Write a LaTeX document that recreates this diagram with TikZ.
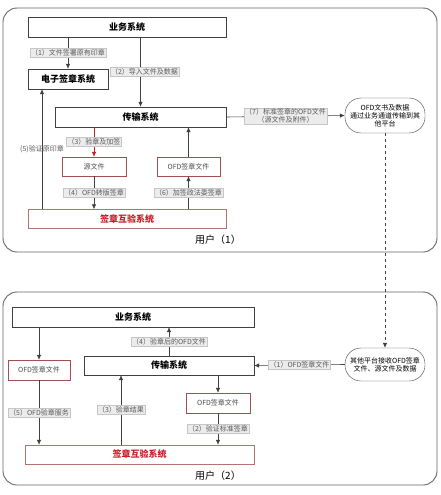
\documentclass[tikz,border=0pt]{standalone}
\usepackage{fontspec}
\setmainfont{Noto Sans CJK SC}
\usepackage{tikz}
\usetikzlibrary{calc,positioning,arrows.meta,shapes}
\definecolor{sealred}{RGB}{200,30,40}
\definecolor{boxred}{RGB}{160,80,80}
\tikzset{
    every node/.style={
        font=\fontsize{7}{8}\selectfont
    },
    sysbox/.style={
        shape=rectangle,
        draw=black!75,
        text centered,
        font=\fontsize{9}{10}\selectfont\bfseries,
        minimum height=20pt
    },
    filebox/.style={
        shape=rectangle,
        draw=boxred,
        text centered,
        text=black!70,
        minimum height=19pt
    },
    mutualbox/.style={
        shape=rectangle,
        draw=boxred!80,
        text=sealred,
        text centered,
        font=\fontsize{9}{10}\selectfont\bfseries,
        minimum height=19pt
    },
    platform/.style={
        shape=rectangle,
        draw=black!75,
        rounded corners=16pt,
        text width=76pt,
        align=center,
        minimum width=80pt,
        inner sep=1pt
    },
    tag/.style={
        fill=gray!15,
        draw=gray!45,
        text=black!65,
        inner sep=1pt,
        align=center
    },
    panel/.style={
        draw=black!60,
        line width=0.9pt,
        rounded corners=14pt
    }
}
\tikzstyle{link} = [-{Latex[length=5pt,width=4.5pt]}, draw=black!75, line width=0.6pt]

\begin{document}
\begin{tikzpicture}[x=1pt,y=-1pt]
		\useasboundingbox (0,0) rectangle (440,495);
		% Panels
		\draw[panel] (3,8) rectangle (437,252);
		\draw[panel] (3,292) rectangle (437,485);
		% User (1)
		\node (biz1) at (127,27) [sysbox, minimum width=198pt] {业务系统};
		\node (esig) at (68,79) [sysbox, minimum width=80pt] {电子签章系统};
		\node (trans1) at (140.5,117) [sysbox, minimum width=171pt] {传输系统};
		\node (src) at (94,166.5) [filebox, minimum width=64pt] {源文件};
		\node (ofd1) at (188.5,166.5) [filebox, minimum width=63pt] {OFD签章文件};
		\node (mut1) at (127,219) [mutualbox, minimum width=198pt] {签章互验系统};
		\node (ext1) at (385,115.5) [platform, minimum height=35pt] {OFD文书及数据\\通过业务通道传输到其\\他平台};
		\node (user1) at (218,240) [font=\fontsize{10}{11}\selectfont] {用户（1）};
		% User (2)
		\node (biz2) at (133,317) [sysbox, minimum width=242pt] {业务系统};
		\node (ofdL) at (39,370) [filebox, minimum width=62pt, minimum height=20pt] {OFD签章文件};
		\node (trans2) at (169,365.5) [sysbox, minimum width=170pt, minimum height=19pt] {传输系统};
		\node (ofdR) at (218,403) [filebox, minimum width=64pt, minimum height=20pt] {OFD签章文件};
		\node (mut2) at (139.5,454.5) [mutualbox, minimum width=229pt] {签章互验系统};
		\node (ext2) at (385,364.5) [platform, minimum height=33pt] {其他平台接收OFD签章\\文件、源文件及数据};
		\node (user2) at (218,476) [font=\fontsize{10}{11}\selectfont] {用户（2）};
		% Connectors (1)
		\draw [link] (esig.north |- biz1.south) -- node[tag] {（1）文件签署原有印章} (esig.north);
		\draw [link] (trans1.north |- biz1.south) -- node[tag, xshift=4pt] {（2）导入文件及数据} (trans1.north);
		\draw [link] ([xshift=-26pt]esig.south |- mut1.north) -- node[tag, fill=none, draw=none] {(5)验证原印章} ([xshift=-26pt]esig.south);
		\draw [link, draw=sealred] (src.north |- trans1.south) -- node[tag] {（3）验章及加签} (src.north);
		\draw [link] (src.south) -- node[tag] {（4）OFD转版签章} (src.south |- mut1.north);
		\draw [link] (ofd1.south |- mut1.north) -- node[tag] {（6）加签政法委签章} (ofd1.south);
		\draw [link] (ofd1.north) -- (ofd1.north |- trans1.south);
		\draw [link] (trans1.east) -- node[tag] {（7）标准签章的OFD文件\\（源文件及附件）} (ext1.west);
		\draw [link, dashed] (ext1.south) -- (ext2.north);
		% Connectors (2)
		\draw [link] (trans2.north) -- node[tag] {（4）验章后的OFD文件} (trans2.north |- biz2.south);
		\draw [link] (ofdL.north |- biz2.south) -- (ofdL.north);
		\draw [link] (ofdL.south) -- node[tag] {（5）OFD验章服务} (ofdL.south |- mut2.north);
		\draw [link] ([xshift=-48pt]trans2.south |- mut2.north) -- node[tag] {（3）验章结果} ([xshift=-48pt]trans2.south);
		\draw [link] (ofdR.north |- trans2.south) -- (ofdR.north);
		\draw [link] (ofdR.south) -- node[tag] {（2）验证标准签章} (ofdR.south |- mut2.north);
		\draw [link] (ext2.west) -- node[tag] {（1）OFD签章文件} (trans2.east);
	\end{tikzpicture}
\end{document}
